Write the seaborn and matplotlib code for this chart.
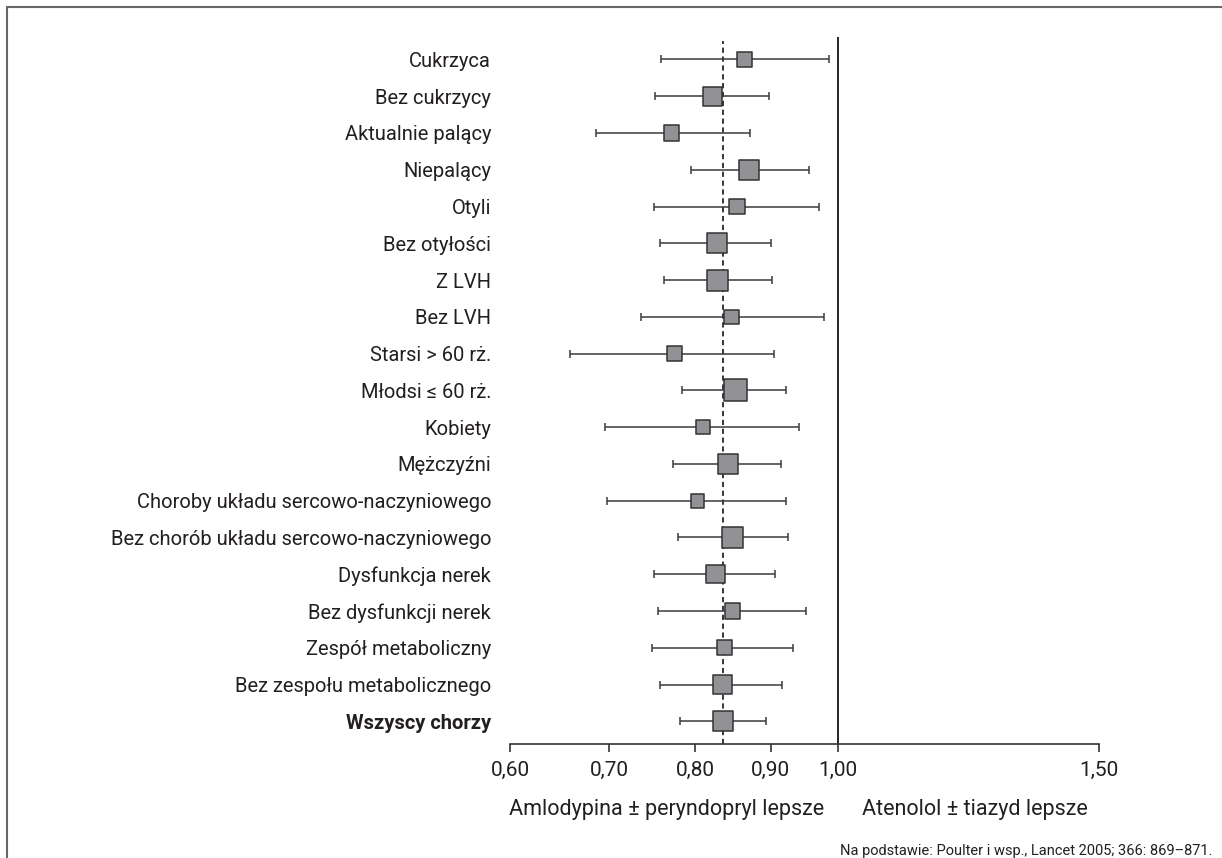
import numpy as np
import pandas as pd
import matplotlib
matplotlib.use("Agg")
import matplotlib.pyplot as plt
from matplotlib.lines import Line2D
from matplotlib.ticker import NullLocator, FixedLocator, FixedFormatter
import matplotlib.transforms as mtransforms
import seaborn as sns

# ---------------- data ----------------
groups = [
    "Cukrzyca", "Bez cukrzycy", "Aktualnie palący", "Niepalący", "Otyli",
    "Bez otyłości", "Z LVH", "Bez LVH", "Starsi > 60 rż.", "Młodsi ≤ 60 rż.",
    "Kobiety", "Mężczyźni", "Choroby układu sercowo-naczyniowego",
    "Bez chorób układu sercowo-naczyniowego", "Dysfunkcja nerek",
    "Bez dysfunkcji nerek", "Zespół metaboliczny", "Bez zespołu metabolicznego",
    "Wszyscy chorzy",
]
hr = [0.864, 0.822, 0.771, 0.870, 0.854, 0.828, 0.829, 0.847, 0.775, 0.852,
      0.810, 0.842, 0.803, 0.848, 0.826, 0.848, 0.837, 0.835, 0.836]
ci_low = [0.759, 0.751, 0.685, 0.795, 0.750, 0.757, 0.762, 0.735, 0.658, 0.784,
          0.695, 0.773, 0.697, 0.779, 0.750, 0.755, 0.748, 0.757, 0.781]
ci_high = [0.986, 0.897, 0.871, 0.955, 0.970, 0.901, 0.902, 0.978, 0.905, 0.922,
           0.940, 0.915, 0.922, 0.924, 0.906, 0.951, 0.932, 0.916, 0.893]
weight = [2.8, 4.4, 2.9, 4.7, 2.9, 4.8, 5.2, 2.5, 2.5, 5.8,
          2.3, 5.0, 2.3, 5.3, 4.0, 2.9, 2.6, 4.0, 4.8]
overall_hr = 0.836
tick_values = [0.60, 0.70, 0.80, 0.90, 1.00, 1.50]
tick_labels = ["0,60", "0,70", "0,80", "0,90", "1,00", "1,50"]
left_label = "Amlodypina ± peryndopryl lepsze"
right_label = "Atenolol ± tiazyd lepsze"
source_note = "Na podstawie: Poulter i wsp., Lancet 2005; 366: 869–871."

df = pd.DataFrame({"group": groups, "hr": hr, "lo": ci_low, "hi": ci_high,
                   "weight": weight})
df["row"] = np.arange(len(df))

# ---------------- style ----------------
sns.set_theme(style="white")
plt.rcParams["font.family"] = ["Roboto", "DejaVu Sans"]
TXT = "#231f20"

W, H = 1222, 858
fig = plt.figure(figsize=(W / 100, H / 100), dpi=100)
ax = fig.add_axes([510.5 / W, 1 - 744.3 / H, (1098.5 - 510.5) / W, (744.3 - 37) / H])

# reference lines
ax.axvline(1.0, color="black", lw=1.2, zorder=1)
ax.axvline(overall_hr, color="black", lw=1.1, ls=(0, (3.4, 2.4)), ymax=0.995, zorder=1)

# confidence intervals
ax.errorbar(df["hr"], df["row"],
            xerr=[df["hr"] - df["lo"], df["hi"] - df["hr"]],
            fmt="none", ecolor="#3a3a3a", elinewidth=1.1, capsize=2.8,
            capthick=1.1, zorder=2)

# point estimates (square size ~ weight)
k = 44.0
sns.scatterplot(data=df, x="hr", y="row", size="weight",
                sizes=(k * min(weight), k * max(weight)),
                size_norm=(min(weight), max(weight)),
                marker="s", color="#929296", edgecolor="#333333",
                linewidth=1.1, legend=False, zorder=3, ax=ax)

ax.set_xscale("log")
ax.set_xlim(0.60, 1.50)
ax.set_ylim(18.626, -0.61)
ax.xaxis.set_major_locator(FixedLocator(tick_values))
ax.xaxis.set_major_formatter(FixedFormatter(tick_labels))
ax.xaxis.set_minor_locator(NullLocator())
ax.set_yticks(df["row"])
ax.set_yticklabels(df["group"])
ax.set_xlabel("")
ax.set_ylabel("")

for lab in ax.get_yticklabels():
    if lab.get_text() == "Wszyscy chorzy":
        lab.set_fontweight("bold")

ax.tick_params(axis="x", which="major", direction="out", length=6, width=1.2,
               color="#333333", labelsize=15, labelcolor=TXT, pad=6, bottom=True)
ax.tick_params(axis="y", length=0, labelsize=14.5, labelcolor=TXT, pad=14)

for s in ["top", "right", "left"]:
    ax.spines[s].set_visible(False)
ax.spines["bottom"].set_color("#333333")
ax.spines["bottom"].set_linewidth(1.2)

# direction labels under the axis
trans = mtransforms.blended_transform_factory(ax.transData, ax.transAxes)
ax.annotate(left_label, xy=(1.0, 0), xycoords=trans, xytext=(-10, -51),
            textcoords="offset points", ha="right", va="baseline",
            fontsize=15.5, color=TXT, annotation_clip=False)
ax.annotate(right_label, xy=(1.0, 0), xycoords=trans, xytext=(17, -51),
            textcoords="offset points", ha="left", va="baseline",
            fontsize=15.5, color=TXT, annotation_clip=False)

# source note
fig.text(1212 / W, 1 - 851 / H, source_note, ha="right", va="center",
         fontsize=10.5, color=TXT)

# frame (top and left edges)
fig.add_artist(Line2D([7 / W, 1.0], [1 - 6.7 / H, 1 - 6.7 / H],
                      transform=fig.transFigure, color="#666666", lw=1.5))
fig.add_artist(Line2D([7 / W, 7 / W], [0.0, 1 - 6.7 / H],
                      transform=fig.transFigure, color="#666666", lw=1.5))

fig.savefig("out.png", dpi=100)
